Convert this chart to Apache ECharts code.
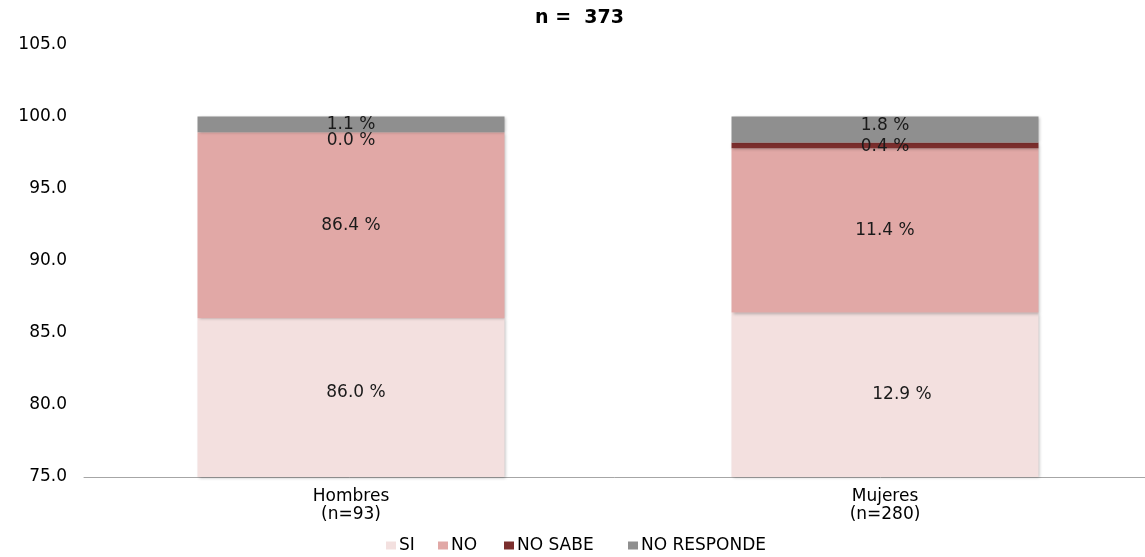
<!DOCTYPE html>
<html>
<head>
<meta charset="utf-8">
<script src="https://cdn.jsdelivr.net/npm/echarts@6/dist/echarts.min.js"></script>
<style>
html,body{margin:0;padding:0;background:#fff;}
#chart{width:1145px;height:557px;}
</style>
</head>
<body>
<div id="chart"></div>
<script>
// Data
const categories = ['Hombres\n(n=93)', 'Mujeres\n(n=280)'];
const seriesNames = ['SI', 'NO', 'NO SABE', 'NO RESPONDE'];
const siValues = [86.0, 86.4];
const noValues = [12.9, 11.4];
const noSabeValues = [0.0, 0.4];
const noRespondeValues = [1.1, 1.8];
// Data labels exactly as printed in the source chart
const siLabels = ['86.0 %', '12.9 %'];
const noLabels = ['86.4 %', '11.4 %'];
const noSabeLabels = ['0.0 %', '0.4 %'];
const noRespondeLabels = ['1.1 %', '1.8 %'];
const yTicks = [75, 80, 85, 90, 95, 100, 105];
const titleText = 'n =  373';

const colors = ['#F3E0DF', '#E1A8A6', '#7B2E2D', '#8F8F8F'];
const labelFont = 'DejaVu Sans';
const fs = 17;

// per-item label offsets (style only)
const labelOffsets = [
  [[5, -5], [17, 0]],
  [[0, 0], [0, 0]],
  [[0, 8], [0, 1]],
  [[0, 0], [0, -4]]
];
// legend item left positions (layout only)
const legendLefts = [386, 438, 504, 628];

const valueSets = [siValues, noValues, noSabeValues, noRespondeValues];
const labelSets = [siLabels, noLabels, noSabeLabels, noRespondeLabels];

const series = seriesNames.map((name, si) => ({
  name: name,
  type: 'bar',
  stack: 'total',
  barWidth: 307,
  itemStyle: {
    color: colors[si],
    shadowColor: 'rgba(0,0,0,0.25)',
    shadowBlur: 3,
    shadowOffsetX: 1,
    shadowOffsetY: 1
  },
  label: {
    show: true,
    position: 'inside',
    color: '#1a1a1a',
    fontFamily: labelFont,
    fontSize: fs
  },
  data: valueSets[si].map((v, i) => ({
    value: v,
    label: {
      formatter: labelSets[si][i],
      offset: labelOffsets[si][i]
    }
  }))
}));

const legends = seriesNames.map((name, si) => ({
  data: [name],
  left: legendLefts[si],
  top: 537,
  icon: 'rect',
  itemWidth: 10,
  itemHeight: 8,
  padding: 0,
  selectedMode: false,
  textStyle: {
    fontFamily: labelFont,
    fontSize: fs,
    color: '#000',
    padding: [0, 0, 0, -2]
  }
}));

const chart = echarts.init(document.getElementById('chart'), null, {renderer: 'canvas'});
chart.setOption({
  animation: false,
  backgroundColor: '#ffffff',
  title: {
    text: titleText,
    left: 535,
    top: 9,
    padding: 0,
    textStyle: {
      fontFamily: 'DejaVu Sans',
      fontWeight: 'bold',
      fontSize: 19,
      color: '#000'
    }
  },
  legend: legends,
  grid: {
    left: 84,
    width: 1068,
    top: 116.3 - 5 * 14.4,
    bottom: 80,
    containLabel: false,
    outerBoundsMode: 'none'
  },
  xAxis: {
    type: 'category',
    data: categories,
    axisLine: {show: true, lineStyle: {color: '#A6A6A6', width: 1}},
    axisTick: {show: false},
    axisLabel: {
      fontFamily: labelFont,
      fontSize: fs,
      color: '#000',
      lineHeight: 18,
      margin: 11
    }
  },
  yAxis: {
    type: 'value',
    min: yTicks[0],
    max: yTicks[yTicks.length - 1],
    interval: 5,
    axisLine: {show: false},
    axisTick: {show: false},
    splitLine: {show: false},
    axisLabel: {
      fontFamily: labelFont,
      fontSize: fs,
      color: '#000',
      margin: 17,
      formatter: v => v.toFixed(1)
    }
  },
  series: series
});
</script>
</body>
</html>
